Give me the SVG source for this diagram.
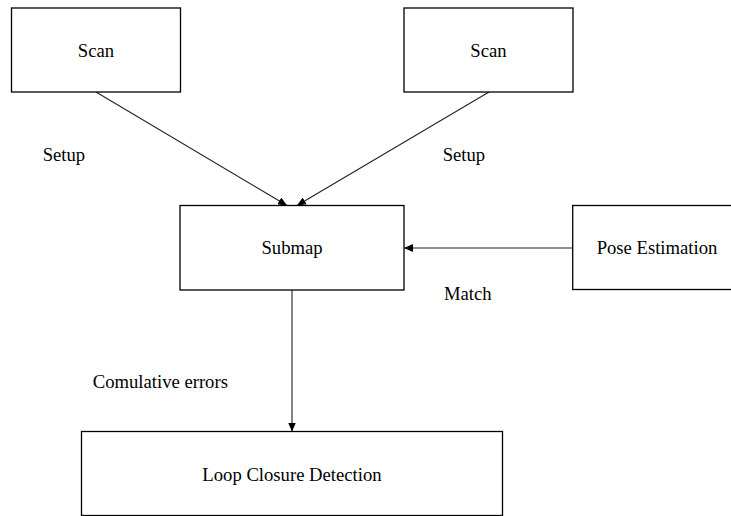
<svg xmlns="http://www.w3.org/2000/svg" width="731" height="516" viewBox="0 0 731 516">
<style>
.box{fill:#fff;stroke:#000;stroke-width:1.3}
.t{font-family:'Liberation Serif','DejaVu Serif',serif;font-size:18.67px;fill:#000}
.c{text-anchor:middle}
.ln{stroke:#222;stroke-width:1.1;fill:none;marker-end:url(#ah)}
</style>
<defs>
<marker id="ah" markerUnits="userSpaceOnUse" markerWidth="9" markerHeight="8" refX="9" refY="4" orient="auto">
<path d="M0,0 L9,4 L0,8 z" fill="#000"/>
</marker>
</defs>
<rect width="731" height="516" fill="#fff"/>
<g id="connectors">
<line class="ln" x1="96" y1="92" x2="287" y2="205.5"/>
<line class="ln" x1="489" y1="92" x2="297" y2="205.5"/>
<line class="ln" x1="572.7" y1="248" x2="404" y2="248"/>
<line class="ln" x1="292" y1="290" x2="292" y2="431.5"/>
</g>
<g id="labels" font-family="Liberation Serif, serif">
<text class="t" x="42.7" y="161">Setup</text>
<text class="t" x="442.7" y="161">Setup</text>
<text class="t" x="444" y="300">Match</text>
<text class="t" x="92.7" y="388">Comulative errors</text>
</g>
<g id="scan1"><rect class="box" x="11.5" y="8" width="169" height="84"/><text class="t c" x="96" y="57">Scan</text></g>
<g id="scan2"><rect class="box" x="404" y="8" width="169" height="84"/><text class="t c" x="488.5" y="57">Scan</text></g>
<g id="submap"><rect class="box" x="180" y="205.5" width="224" height="84.5"/><text class="t c" x="292" y="254">Submap</text></g>
<g id="pose"><rect class="box" x="572.7" y="205.5" width="169" height="84"/><text class="t c" x="657" y="254">Pose Estimation</text></g>
<g id="loop"><rect class="box" x="81.5" y="431.5" width="421" height="84"/><text class="t c" x="292" y="481">Loop Closure Detection</text></g>
</svg>
